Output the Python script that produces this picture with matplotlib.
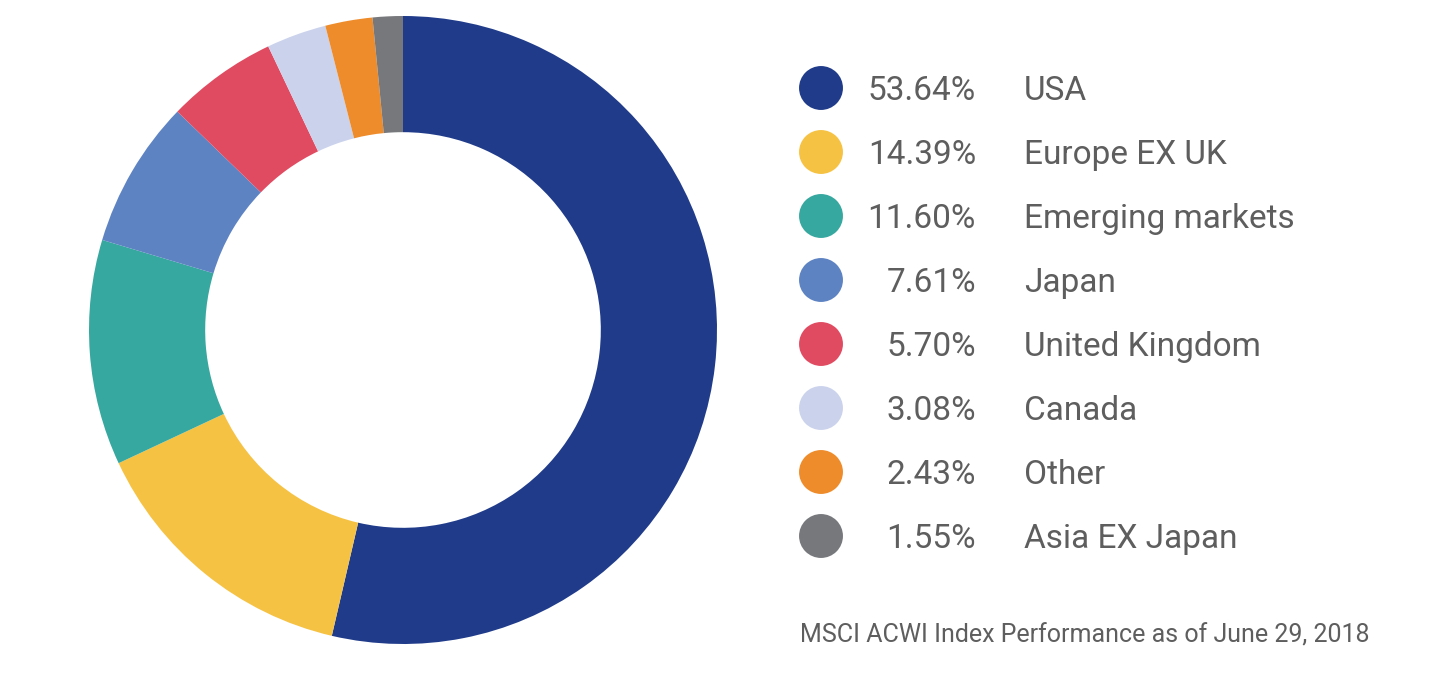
#!/usr/bin/env python3
"""MSCI ACWI 地区权重环形图。"""

import matplotlib.pyplot as plt

regions = ["USA", "Europe EX UK", "Emerging markets", "Japan",
           "United Kingdom", "Canada", "Other", "Asia EX Japan"]
weights = [53.64, 14.39, 11.60, 7.61, 5.70, 3.08, 2.43, 1.55]
colors = ["#1f3b8a", "#f6c244", "#36a89f", "#5d83c3",
          "#e04b61", "#cbd2ec", "#ee8c2b", "#77787c"]
footnote = "MSCI ACWI Index Performance as of June 29, 2018"

W, H = 1432, 692
fig = plt.figure(figsize=(W / 100, H / 100), dpi=100)
fig.patch.set_facecolor("white")

# 环形图，中心约在 (403, 330) 像素，外半径 314
cx, cy, r = 403, 330, 314
ax = fig.add_axes([(cx - r) / W, (H - cy - r) / H, 2 * r / W, 2 * r / H])
ax.pie(weights, colors=colors, startangle=90, counterclock=False,
       radius=1.0, wedgeprops=dict(width=0.37, linewidth=0))
ax.set_xlim(-1, 1)
ax.set_ylim(-1, 1)
ax.set_aspect("equal")
ax.axis("off")

# 图例：像素坐标的覆盖层
lg = fig.add_axes([0, 0, 1, 1])
lg.set_xlim(0, W)
lg.set_ylim(H, 0)
lg.axis("off")

row0, step = 88, 64
font = "Roboto"
for i, (name, w, c) in enumerate(zip(regions, weights, colors)):
    y = row0 + i * step
    lg.scatter([821], [y], s=1000, color=c, edgecolors="none")
    lg.text(976, y + 12, f"{w:.2f}%", ha="right", va="baseline",
            fontsize=24, color="#5e5e5e", family=font)
    lg.text(1024, y + 12, name, ha="left", va="baseline",
            fontsize=24, color="#5e5e5e", family=font)

lg.text(800, 642, footnote, ha="left", va="baseline",
        fontsize=18, color="#5e5e5e", family=font)

fig.savefig("out.png", dpi=100, facecolor="white")
